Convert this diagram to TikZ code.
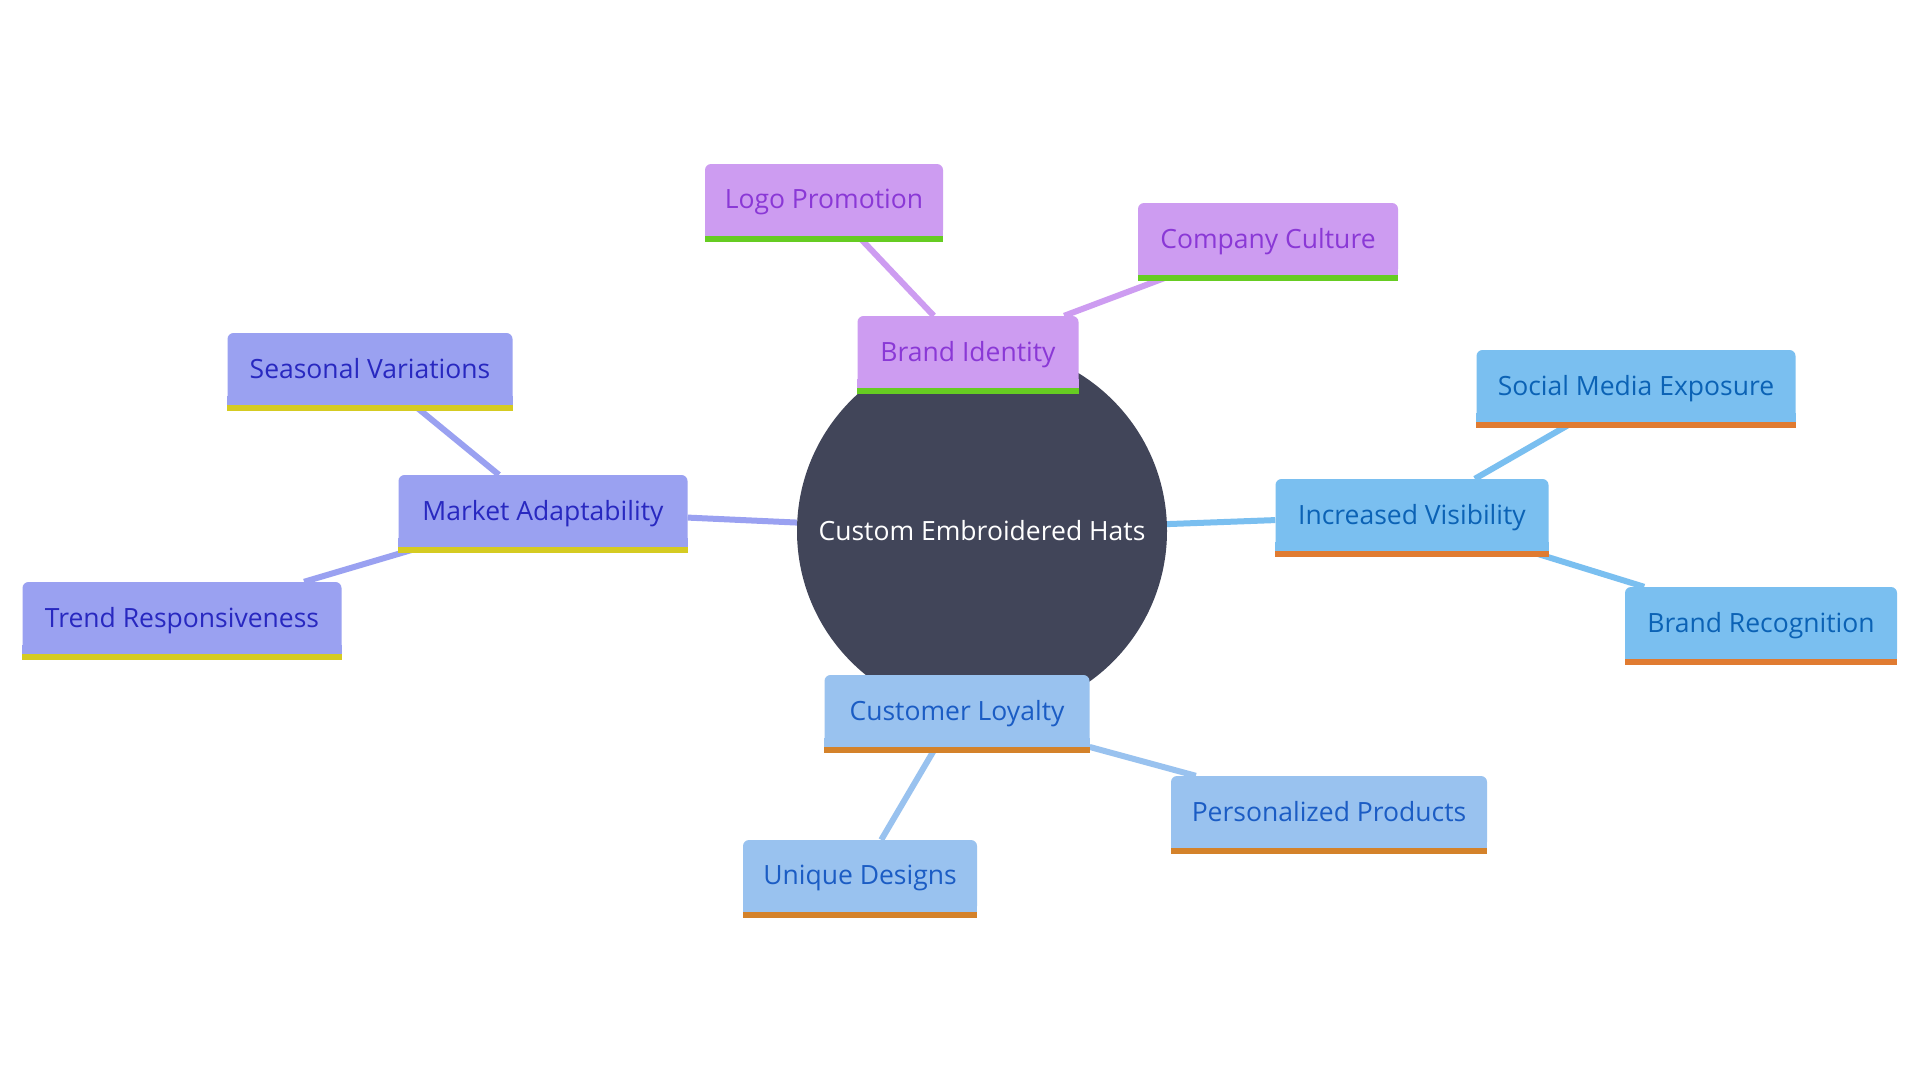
\documentclass[tikz,border=0pt]{standalone}
\usepackage{fontspec}
\setmainfont{Open Sans}
\usetikzlibrary{backgrounds}
\definecolor{cfill}{HTML}{414559}
\definecolor{pfill}{HTML}{CD9CF1}
\definecolor{ptext}{HTML}{8A38D6}
\definecolor{pbar}{HTML}{66CC22}
\definecolor{vfill}{HTML}{7ABFF0}
\definecolor{vtext}{HTML}{0B62B5}
\definecolor{vbar}{HTML}{E07B31}
\definecolor{lfill}{HTML}{99C2EF}
\definecolor{ltext}{HTML}{1B5CC4}
\definecolor{lbar}{HTML}{D4822A}
\definecolor{mfill}{HTML}{9AA1F1}
\definecolor{mtext}{HTML}{2828C0}
\definecolor{mbar}{HTML}{D5CB22}
\tikzset{
  lbl/.style={font=\fontsize{26.5pt}{30pt}\selectfont},
  box/.style={lbl, rectangle, rounded corners=6pt, minimum height=72pt, inner sep=0pt, text depth=2pt},
  pbox/.style={box, fill=pfill, text=ptext},
  vbox/.style={box, fill=vfill, text=vtext},
  lbox/.style={box, fill=lfill, text=ltext},
  mbox/.style={box, fill=mfill, text=mtext},
  link/.style={line width=6pt},
}
\begin{document}
\begin{tikzpicture}[x=1pt,y=-1pt]
\useasboundingbox (0,0) rectangle (1920,1080);
\node[lbl, circle, fill=cfill, minimum size=370pt, inner sep=0pt, text=white] (c) at (982,531) {Custom Embroidered Hats};
\node[pbox, minimum width=221pt] (bi) at (968,352) {Brand Identity};
\node[pbox, minimum width=238pt] (lp) at (824,200) {Logo Promotion};
\node[pbox, minimum width=260pt] (cc) at (1268,239) {Company Culture};
\node[vbox, minimum width=273pt] (iv) at (1412,515) {Increased Visibility};
\node[vbox, minimum width=319pt] (sm) at (1636,386) {Social Media Exposure};
\node[vbox, minimum width=272pt] (br) at (1761,623) {Brand Recognition};
\node[lbox, minimum width=265pt] (cl) at (957,711) {Customer Loyalty};
\node[lbox, minimum width=316pt] (pp) at (1329,812) {Personalized Products};
\node[lbox, minimum width=234pt] (ud) at (860,876) {Unique Designs};
\node[mbox, minimum width=289pt] (ma) at (543,511) {Market Adaptability};
\node[mbox, minimum width=285pt] (sv) at (370,369) {Seasonal Variations};
\node[mbox, minimum width=319pt] (tr) at (182,618) {Trend Responsiveness};
\foreach \n/\f/\b in {bi/pfill/pbar, lp/pfill/pbar, cc/pfill/pbar,
  iv/vfill/vbar, sm/vfill/vbar, br/vfill/vbar,
  cl/lfill/lbar, pp/lfill/lbar, ud/lfill/lbar,
  ma/mfill/mbar, sv/mfill/mbar, tr/mfill/mbar} {
  \fill[\f] ([yshift=9pt]\n.south west) rectangle (\n.south east);
  \fill[\b] (\n.south west) rectangle ([yshift=-6pt]\n.south east);
}
\begin{scope}[on background layer]
\fill[white] (0,0) rectangle (1920,1080);
\draw[link, pfill] (c) -- (bi);
\draw[link, pfill] (bi) -- (lp);
\draw[link, pfill] (bi) -- (cc);
\draw[link, vfill] (c) -- (iv);
\draw[link, vfill] (iv) -- (sm);
\draw[link, vfill] (iv) -- (br);
\draw[link, lfill] (c) -- (cl);
\draw[link, lfill] (cl) -- (pp);
\draw[link, lfill] (cl) -- (ud);
\draw[link, mfill] (c) -- (ma);
\draw[link, mfill] (ma) -- (sv);
\draw[link, mfill] (ma) -- (tr);
\end{scope}
\end{tikzpicture}
\end{document}
